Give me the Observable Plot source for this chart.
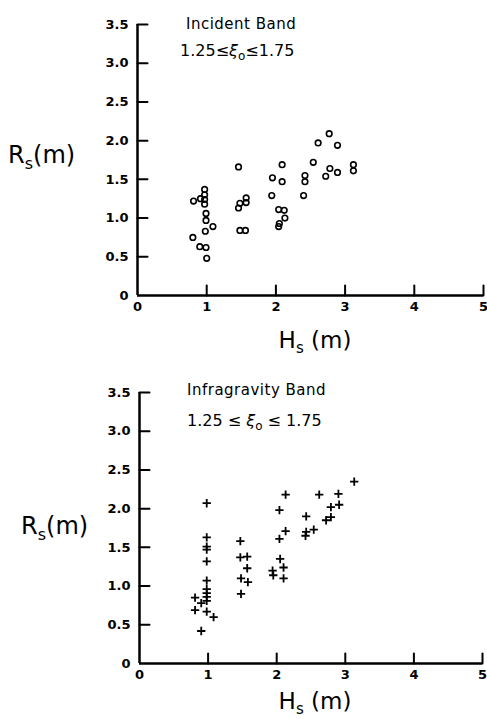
<!DOCTYPE html>
<html><head><meta charset="utf-8">
<script src="https://cdn.jsdelivr.net/npm/d3@7"></script>
<script src="https://cdn.jsdelivr.net/npm/@observablehq/plot@0.6"></script>
<style>
html,body{margin:0;padding:0;background:#fff;}
#chart{width:487px;}
#chart svg{display:block;}
</style></head><body><div id="chart"></div>
<script>
// ---- data ----
const incidentH = [0.81, 0.91, 0.97, 0.97, 0.97, 0.97, 0.99, 0.99, 1.09, 0.98, 0.80, 0.90, 0.99, 1.00,
  1.46, 1.48, 1.46, 1.57, 1.57, 1.48, 1.56,
  1.95, 2.09, 2.09, 1.94, 2.04, 2.12, 2.13, 2.05, 2.04,
  2.40, 2.42, 2.42, 2.54, 2.61, 2.77, 2.89, 2.72, 2.78, 2.89, 3.12, 3.12];
const incidentR = [1.22, 1.25, 1.37, 1.30, 1.24, 1.18, 1.06, 0.97, 0.89, 0.83, 0.75, 0.63, 0.62, 0.48,
  1.66, 1.19, 1.13, 1.26, 1.20, 0.84, 0.84,
  1.52, 1.69, 1.47, 1.29, 1.11, 1.10, 1.00, 0.93, 0.89,
  1.29, 1.55, 1.47, 1.72, 1.97, 2.09, 1.94, 1.54, 1.64, 1.59, 1.69, 1.61];
const infraH = [0.98, 0.98, 0.98, 0.98, 0.98, 0.98, 0.98, 0.98, 0.98, 0.98, 0.98, 0.81, 0.81, 0.90, 0.90, 1.08,
  1.47, 1.47, 1.57, 1.57, 1.48, 1.58, 1.48,
  2.04, 2.13, 2.04, 2.13, 2.05, 2.10, 1.94, 1.95, 2.10,
  2.43, 2.43, 2.42, 2.54, 2.62, 2.72, 2.79, 2.79, 2.90, 2.91, 3.13];
const infraR = [2.07, 1.63, 1.51, 1.47, 1.32, 1.07, 0.96, 0.91, 0.86, 0.81, 0.67, 0.85, 0.69, 0.78, 0.42, 0.60,
  1.58, 1.37, 1.38, 1.23, 1.10, 1.05, 0.90,
  1.98, 2.18, 1.61, 1.71, 1.35, 1.24, 1.20, 1.14, 1.10,
  1.90, 1.70, 1.65, 1.73, 2.18, 1.85, 1.89, 2.02, 2.19, 2.05, 2.35];
const xTicks = [0, 1, 2, 3, 4, 5];
const xTickLabels = ["0", "1", "2", "3", "4", "5"];
const yTicks = [0, 0.5, 1, 1.5, 2, 2.5, 3, 3.5];
const yTickLabels = ["0", "0.5", "1.0", "1.5", "2.0", "2.5", "3.0", "3.5"];
const panelTitles = ["Incident Band", "Infragravity Band"];
const rangeLow = "1.25", rangeHigh = "1.75";
const yLabelMain = "R", xLabelMain = "H", labelSub = "s", labelUnit = "(m)";

const FONT = "'DejaVu Sans', sans-serif";
const tickShape = {draw(context, l) { context.moveTo(0, 0); context.lineTo(0, -l); }};

function panel(o) {
  const data = o.H.map((h, i) => ({h, r: o.R[i]}));
  const svg = Plot.plot({
    width: 487, height: o.height,
    marginTop: o.mt, marginBottom: o.mb, marginLeft: o.ml, marginRight: o.mr,
    style: {fontFamily: FONT, fontSize: "13px", fontWeight: "bold", color: "#000", background: "#fff", overflow: "visible"},
    x: {domain: [0, 5]},
    y: {domain: [0, 3.5]},
    marks: [
      Plot.axisX({ticks: xTicks, tickSize: 0, tickPadding: 6, tickFormat: d => xTickLabels[xTicks.indexOf(d)], label: null}),
      Plot.axisY({ticks: yTicks, tickSize: 0, tickPadding: 9, tickFormat: d => yTickLabels[yTicks.indexOf(d)], label: null}),
      // inward ticks
      Plot.vector(xTicks.slice(1), {x: d => d, y: () => 0, length: 10, rotate: 0, anchor: "start", shape: tickShape, stroke: "#000", strokeWidth: 2}),
      Plot.vector(yTicks.slice(1), {x: () => 0, y: d => d, length: 10, rotate: 90, anchor: "start", shape: tickShape, stroke: "#000", strokeWidth: 2}),
      Plot.ruleX([0], {strokeWidth: 2.5}),
      Plot.ruleY([0], {strokeWidth: 2.5}),
      Plot.dot(data, {x: "h", y: "r", symbol: o.symbol, r: o.r, stroke: "#000", strokeWidth: o.sw, fill: "none"})
    ]
  });
  const s = d3.select(svg);
  const g = s.append("g").attr("font-family", FONT).attr("fill", "#000")
    .attr("font-weight", "normal").attr("text-anchor", "start");
  // panel title
  g.append("text").attr("x", o.titleX).attr("y", o.titleY)
    .attr("font-size", 15).attr("letter-spacing", "0.5px").text(o.title);
  // range line
  const t = g.append("text").attr("x", o.titleX - o.rangeShift).attr("y", o.rangeY).attr("font-size", 16);
  t.append("tspan").text(rangeLow + o.gap + "\u2264" + o.gap);
  t.append("tspan").attr("font-style", "italic").text("\u03BE");
  t.append("tspan").attr("dy", 4).attr("font-size", 12).text("o");
  t.append("tspan").attr("dy", -4).text(o.gap + "\u2264" + o.gap + rangeHigh);
  // y label
  const yl = g.append("text").attr("x", o.yLabelX).attr("y", o.yLabelY).attr("font-size", 24);
  yl.append("tspan").text(yLabelMain);
  yl.append("tspan").attr("dy", 6).attr("font-size", 16).text(labelSub);
  yl.append("tspan").attr("dy", -6).text(labelUnit);
  // x label
  const xl = g.append("text").attr("x", 315).attr("y", o.xLabelY).attr("font-size", 23).attr("text-anchor", "middle");
  xl.append("tspan").text(xLabelMain);
  xl.append("tspan").attr("dy", 5).attr("font-size", 15).text(labelSub);
  xl.append("tspan").attr("dy", -5).text(" " + labelUnit);
  return svg;
}

const chart = document.getElementById("chart");
chart.appendChild(panel({
  H: incidentH, R: incidentR, symbol: "circle", r: 2.8, sw: 1.6,
  height: 360, mt: 24, mb: 65, ml: 137, mr: 4,
  title: panelTitles[0], titleX: 186, titleY: 29, rangeY: 56, rangeShift: 6, gap: "",
  yLabelX: 8, yLabelY: 163, xLabelY: 348
}));
chart.appendChild(panel({
  H: infraH, R: infraR, symbol: "plus", r: 2.8, sw: 1.8,
  height: 359, mt: 32, mb: 56, ml: 139, mr: 5,
  title: panelTitles[1], titleX: 187, titleY: 35, rangeY: 66, rangeShift: 0, gap: " ",
  yLabelX: 21, yLabelY: 174, xLabelY: 349
}));
</script></body></html>
